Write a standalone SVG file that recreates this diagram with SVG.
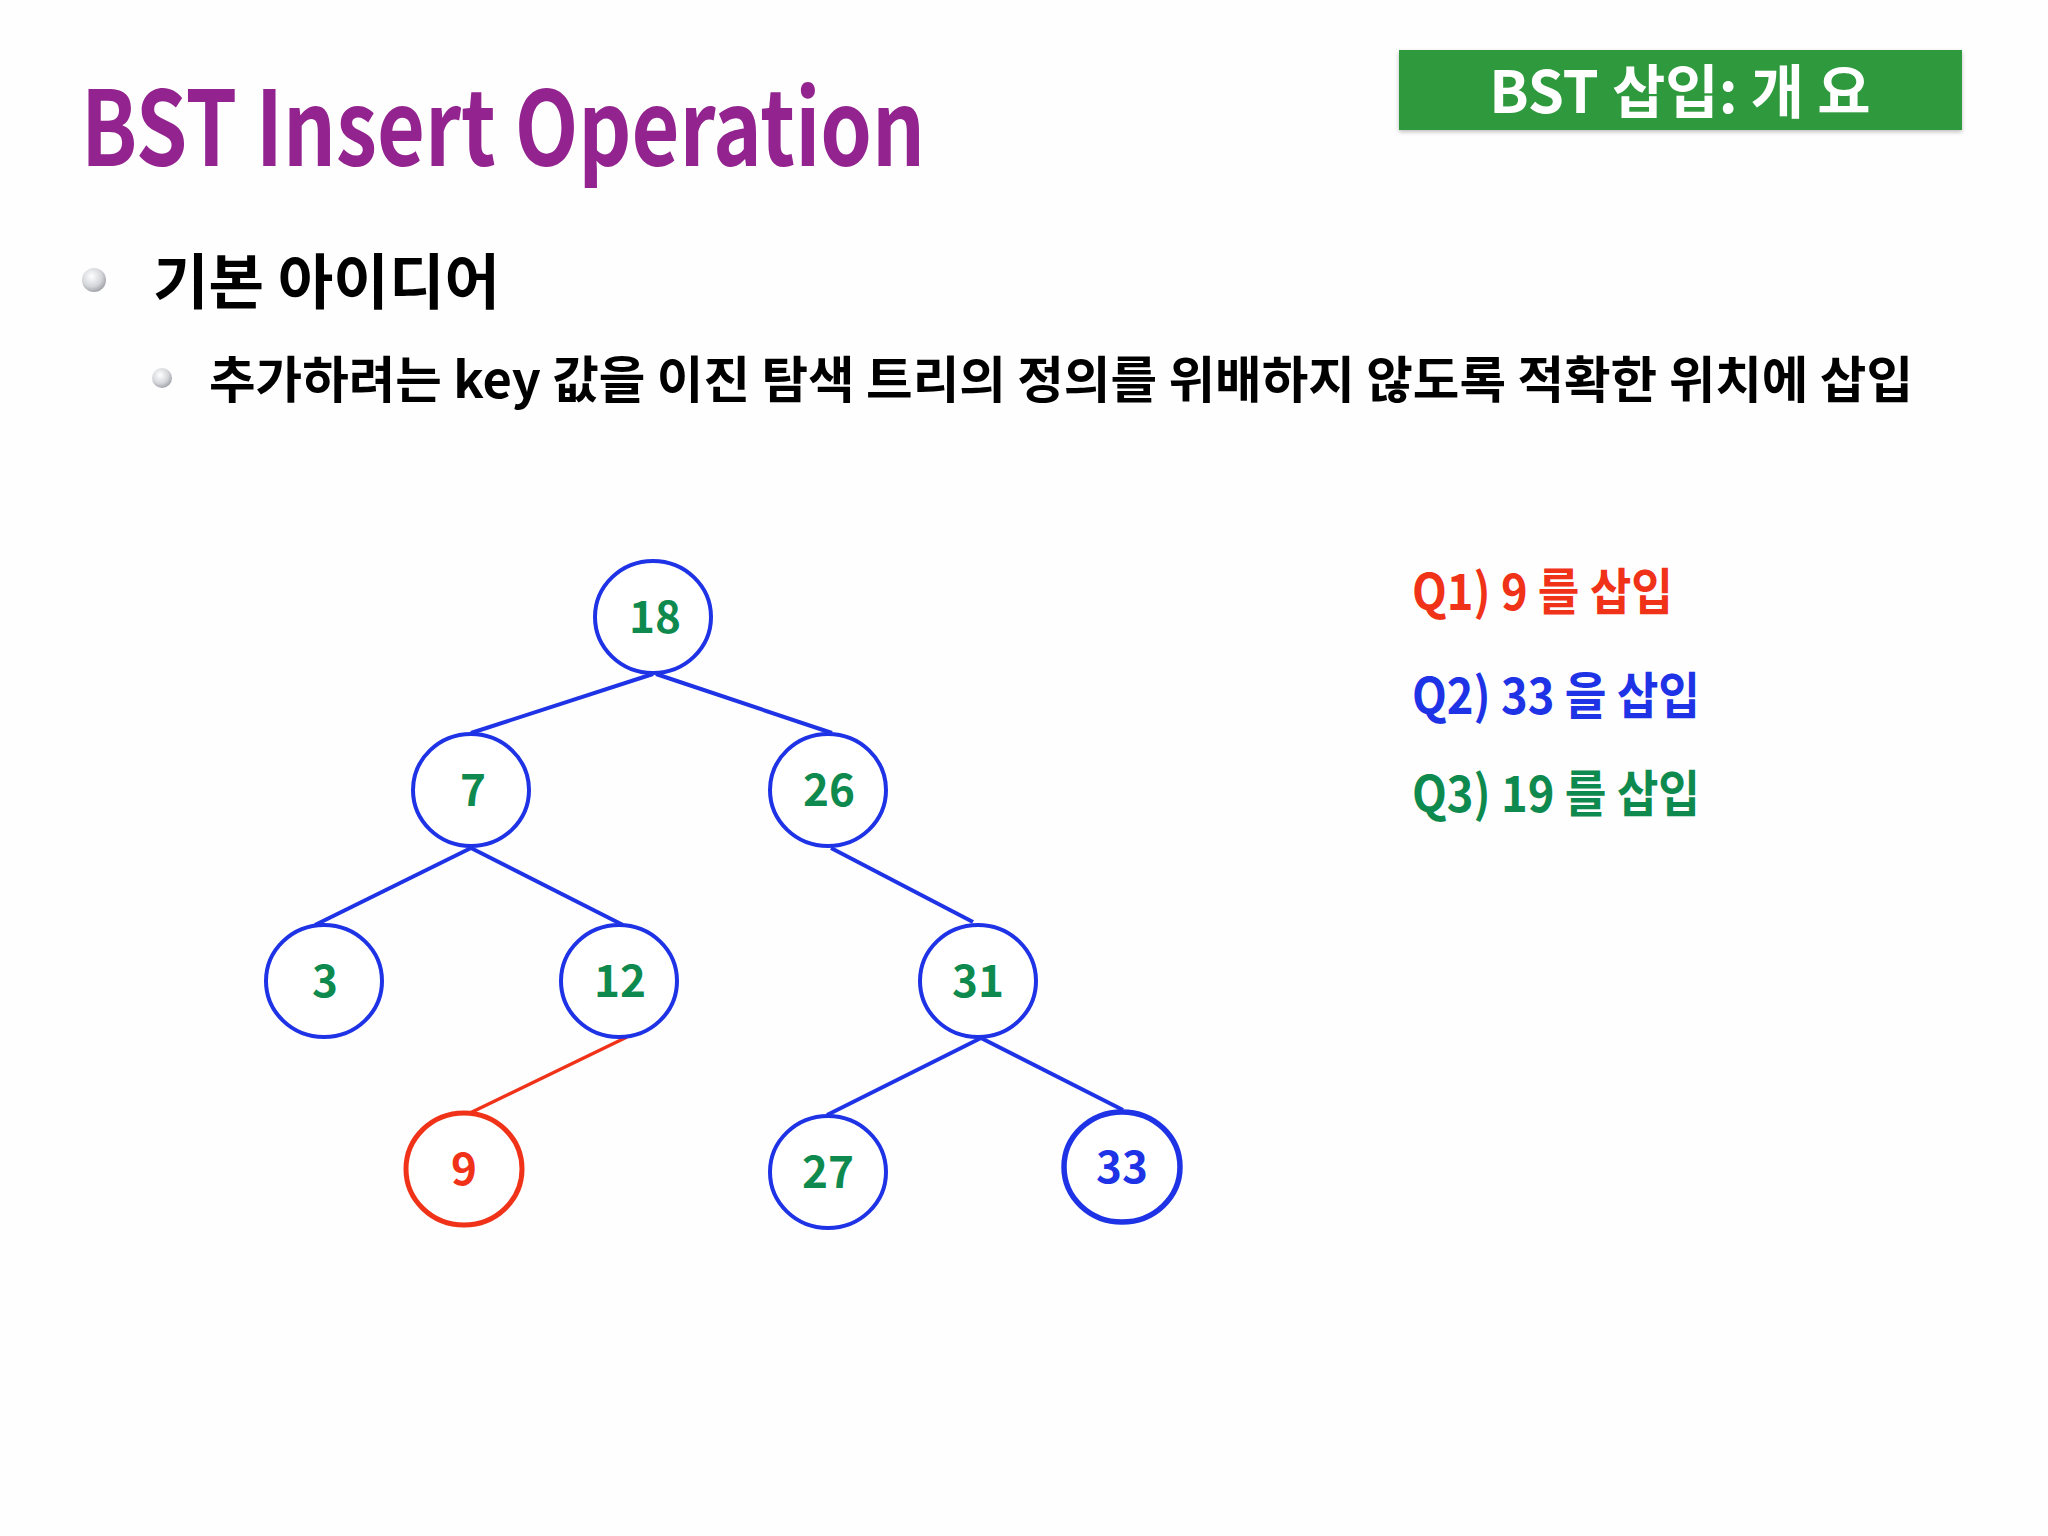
<svg xmlns="http://www.w3.org/2000/svg" width="2048" height="1536" viewBox="0 0 2048 1536">
<defs>
<radialGradient id="ball" cx="0.4" cy="0.35" r="0.7">
<stop offset="0" stop-color="#ffffff"/>
<stop offset="0.6" stop-color="#d4d6da"/>
<stop offset="1" stop-color="#9a9ca2"/>
</radialGradient>
<filter id="sh" x="-5%" y="-10%" width="110%" height="130%">
<feDropShadow dx="0" dy="2" stdDeviation="2" flood-color="#000" flood-opacity="0.25"/>
</filter>
</defs>
<style>
.k{font-family:"Noto Sans CJK KR","Noto Sans",sans-serif;font-weight:bold}
.node{fill:#fff;stroke:#1f33e6;stroke-width:4}
.lbl{font-family:"Noto Sans CJK KR","Noto Sans",sans-serif;font-weight:bold;font-size:44px;fill:#0f8a4f;text-anchor:middle}
.edge{stroke:#1f33e6;stroke-width:4;fill:none}
</style>
<rect width="2048" height="1536" fill="#fefefe"/>
<g id="title">
<text class="k" x="81" y="166" font-size="104" fill="#93248f" textLength="844" lengthAdjust="spacingAndGlyphs">BST Insert Operation</text>
</g>
<g id="tag">
<rect x="1399" y="50" width="563" height="80" fill="#2f9a3e" filter="url(#sh)"/>
<text class="k" x="1680" y="113" font-size="58" fill="#ffffff" text-anchor="middle">BST 삽입: 개 요</text>
</g>
<g id="bullet1">
<circle cx="94" cy="280" r="12" fill="url(#ball)"/>
<text class="k" x="153" y="304" font-size="60" fill="#000" textLength="347" lengthAdjust="spacingAndGlyphs">기본 아이디어</text>
</g>
<g id="bullet2">
<circle cx="162" cy="378" r="10" fill="url(#ball)"/>
<text class="k" x="209" y="398" font-size="50" fill="#000" textLength="1704" lengthAdjust="spacingAndGlyphs">추가하려는 key 값을 이진 탐색 트리의 정의를 위배하지 않도록 적확한 위치에 삽입</text>
</g>
<g id="connectors">
<line class="edge" x1="653" y1="674" x2="471" y2="733"/>
<line class="edge" x1="656" y1="674" x2="832" y2="733"/>
<line class="edge" x1="471" y1="848" x2="315" y2="925"/>
<line class="edge" x1="471" y1="848" x2="623" y2="925"/>
<line class="edge" x1="831" y1="848" x2="973" y2="922"/>
<line x1="627" y1="1037" x2="470" y2="1113" stroke="#f03219" stroke-width="3.5"/>
<line class="edge" x1="981" y1="1038" x2="827" y2="1115"/>
<line class="edge" x1="981" y1="1038" x2="1123" y2="1110"/>
</g>
<g id="n18"><ellipse class="node" cx="653" cy="617" rx="58" ry="56"/><text class="lbl" x="655" y="633">18</text></g>
<g id="n7"><ellipse class="node" cx="471" cy="790" rx="58" ry="56"/><text class="lbl" x="473" y="806">7</text></g>
<g id="n26"><ellipse class="node" cx="828" cy="790" rx="58" ry="56"/><text class="lbl" x="829" y="806">26</text></g>
<g id="n3"><ellipse class="node" cx="324" cy="981" rx="58" ry="56"/><text class="lbl" x="325" y="997">3</text></g>
<g id="n12"><ellipse class="node" cx="619" cy="981" rx="58" ry="56"/><text class="lbl" x="620" y="997">12</text></g>
<g id="n31"><ellipse class="node" cx="978" cy="981" rx="58" ry="56"/><text class="lbl" x="978" y="997">31</text></g>
<g id="n9"><ellipse cx="464" cy="1169" rx="58" ry="56" fill="#fff" stroke="#f03219" stroke-width="5"/><text class="lbl" x="464" y="1185" style="fill:#f03219">9</text></g>
<g id="n27"><ellipse class="node" cx="828" cy="1172" rx="58" ry="56"/><text class="lbl" x="828" y="1188">27</text></g>
<g id="n33"><ellipse cx="1122" cy="1167" rx="58" ry="55" fill="#fff" stroke="#1f33e6" stroke-width="5.5"/><text class="lbl" x="1122" y="1183" style="fill:#1f33e6">33</text></g>
<g id="questions">
<text class="k" x="1412" y="610" font-size="50" fill="#f03219" textLength="261" lengthAdjust="spacingAndGlyphs">Q1) 9 를 삽입</text>
<text class="k" x="1412" y="714" font-size="50" fill="#1f33e6" textLength="288" lengthAdjust="spacingAndGlyphs">Q2) 33 을 삽입</text>
<text class="k" x="1412" y="812" font-size="50" fill="#0f8a4f" textLength="288" lengthAdjust="spacingAndGlyphs">Q3) 19 를 삽입</text>
</g>
</svg>
